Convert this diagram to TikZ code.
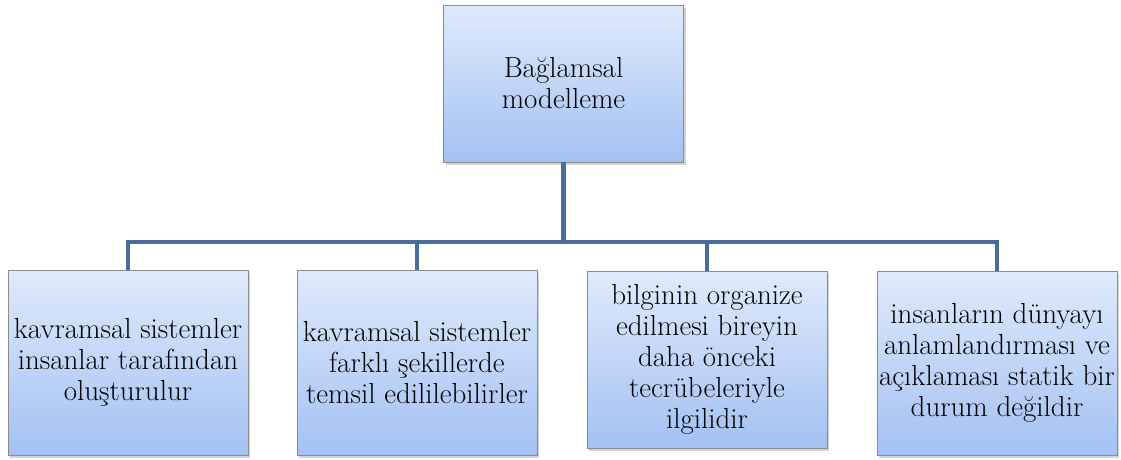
\documentclass[tikz,border=0pt]{standalone}
\usepackage{fontspec}
\usetikzlibrary{shadows}
\definecolor{boxtop}{HTML}{DFEAFB}
\definecolor{boxbot}{HTML}{A3C1F3}
\definecolor{linec}{HTML}{4A6C9B}
\begin{document}
\begin{tikzpicture}[x=1pt,y=-1pt,
  box/.style={draw=black!45, line width=0.8pt, top color=boxtop, bottom color=boxbot,
    minimum width=240pt, align=center, inner sep=0.5pt,
    font=\fontsize{29}{31}\selectfont,
    drop shadow={shadow xshift=2pt, shadow yshift=-2.5pt, opacity=0.35}},
  conn/.style={draw=linec, line width=4.5pt}]
\useasboundingbox (0,0) rectangle (1121,459);
\node[box, minimum height=157pt] (top) at (563.5,83.5) {Bağlamsal\\modelleme};
\node[box, minimum height=185pt] (b1) at (128,362.5) {kavramsal sistemler\\insanlar tarafından\\oluşturulur};
\node[box, minimum height=185pt] (b2) at (417,362.5) {kavramsal sistemler\\farklı şekillerde\\temsil edililebilirler};
\node[box, minimum height=177pt] (b3) at (707,359.5) {bilginin organize\\edilmesi bireyin\\daha önceki\\tecrübeleriyle\\ilgilidir};
\node[box, minimum height=184pt] (b4) at (997,363) {insanların dünyayı\\anlamlandırması ve\\açıklaması statik bir\\durum değildir};
\coordinate (bus) at (563.5,242);
\draw[conn] (top.south) -- (bus);
\draw[conn] (b1.north) |- (b4.north |- bus) -- (b4.north);
\draw[conn] (b2.north) -- (b2.north |- bus);
\draw[conn] (b3.north) -- (b3.north |- bus);
\end{tikzpicture}
\end{document}
